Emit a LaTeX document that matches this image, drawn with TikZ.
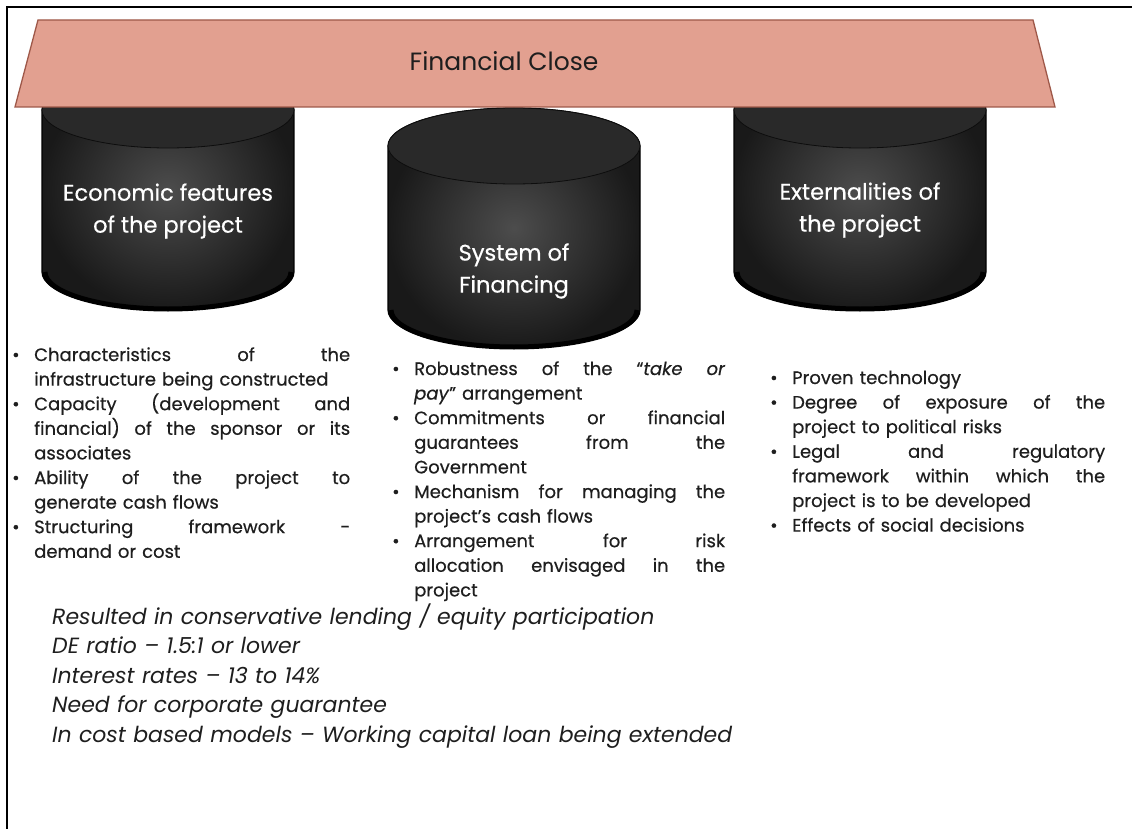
\documentclass[tikz,border=0pt]{standalone}
\usepackage{fontspec}
\setmainfont{Poppins}
\newfontfamily\listfont{Poppins}[FakeBold=0.5]
\definecolor{closefill}{HTML}{E2A090}
\definecolor{closeline}{HTML}{9E5849}
\definecolor{txt}{HTML}{1E1E1E}
\newcommand{\bit}[1]{\hangindent=22pt\hangafter=1\noindent\makebox[22pt][l]{•}#1\par}
\begin{document}
\begin{tikzpicture}[x=1pt,y=-1pt,
		cylbody/.style={draw=black,line width=1.2pt,inner color=black!70,outer color=black!90},
		cyltop/.style={draw=black!95,line width=0.8pt,fill=black!84},
		cylrim/.style={draw=black,line width=5pt},
		cyltext/.style={text=white,align=center,font=\listfont\fontsize{22.5}{32}\selectfont},
		lst/.style={anchor=base west,inner sep=0pt,align=left,text width=#1,text=txt,font=\listfont\fontsize{18}{24.6}\selectfont},
		note/.style={anchor=base west,inner sep=0pt,align=left,text width=800,text=txt,font=\itshape\fontsize{22}{29.5}\selectfont}]
		\useasboundingbox (0,0) rectangle (1132,829);
		\draw[line width=2.6pt] (7,829) -- (7,7) -- (1132,7);
		% the three pillars
		\foreach \cx/\yt/\yb in {168/110/272, 514/146/310, 860/110/272}{
				\draw[cylbody] (\cx-126,\yt) -- (\cx-126,\yb) arc[start angle=180,end angle=0,x radius=126,y radius=38]
				-- (\cx+126,\yt) arc[start angle=0,end angle=-180,x radius=126,y radius=38] -- cycle;
				\draw[cylrim] (\cx-123,\yb) arc[start angle=180,end angle=0,x radius=123,y radius=37];
				\draw[cyltop] (\cx,\yt) ellipse[x radius=126,y radius=38];
			}
		% roof
		\draw[fill=closefill,draw=closeline,line width=1.3pt] (38,20) -- (1033,20) -- (1055,107) -- (15,107) -- cycle;
		\node[text=txt,font=\fontsize{25}{28}\selectfont] (close) at (504,61) {Financial Close};
		\node[cyltext] (econ) at (168,211) {Economic features\\of the project};
		\node[cyltext] (fin) at (514,271) {System of\\Financing};
		\node[cyltext] (ext) at (860,210) {Externalities of\\the project};
		% lists
		\node[lst=338] (econlist) at (12,361) {%
			\bit{Characteristics\hfill of\hfill the\newline infrastructure being constructed}%
			\bit{Capacity\hfill (development\hfill and\newline financial)\hfill of\hfill the\hfill sponsor\hfill or\hfill its\newline associates}%
			\bit{Ability\hfill of\hfill the\hfill project\hfill to\newline generate cash flows}%
			\bit{Structuring\hfill framework\hfill -\newline demand or cost}};
		\node[lst=333] (finlist) at (392,375) {%
			\bit{Robustness\hfill of\hfill the\hfill “\textit{take}\hfill\textit{or}\newline \textit{pay}” arrangement}%
			\bit{Commitments\hfill or\hfill financial\newline guarantees\hfill from\hfill the\newline Government}%
			\bit{Mechanism\hfill for\hfill managing\hfill the\newline project’s cash flows}%
			\bit{Arrangement\hfill for\hfill risk\newline allocation\hfill envisaged\hfill in\hfill the\newline project}};
		\node[lst=335] (extlist) at (770,384) {%
			\bit{Proven technology}%
			\bit{Degree\hfill of\hfill exposure\hfill of\hfill the\newline project to political risks}%
			\bit{Legal\hfill and\hfill regulatory\newline framework\hfill within\hfill which\hfill the\newline project is to be developed}%
			\bit{Effects of social decisions}};
		\node[note] (notes) at (52,624) {Resulted in conservative lending / equity participation\\
			DE ratio -- 1.5:1 or lower\\
			Interest rates -- 13 to 14\%\\
			Need for corporate guarantee\\
			In cost based models -- Working capital loan being extended};
	\end{tikzpicture}
\end{document}
